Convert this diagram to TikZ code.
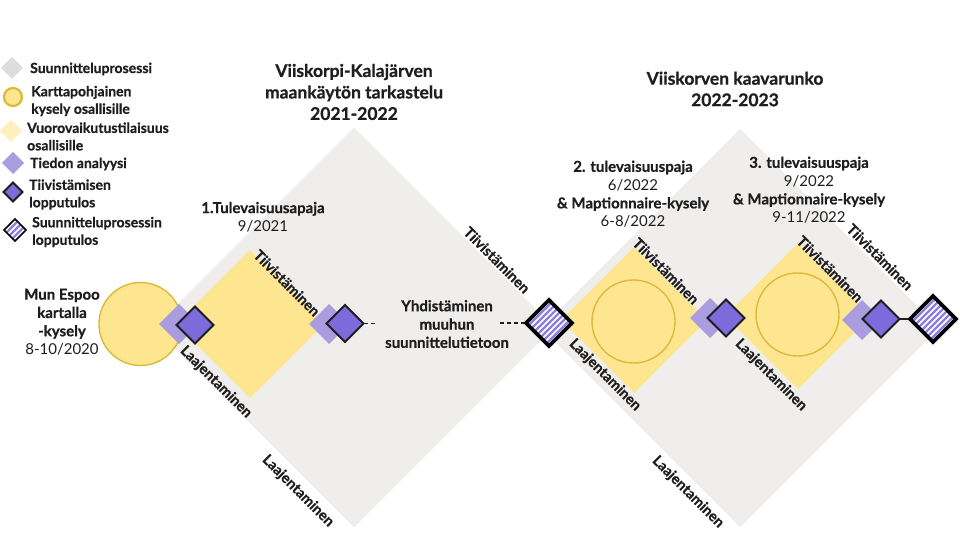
\documentclass[tikz,border=0pt]{standalone}
\usepackage{fontspec}
\setmainfont{Lato}[BoldFeatures={FakeBold=0.7}]
\usetikzlibrary{shapes.geometric,calc}
\definecolor{greyd}{HTML}{EFEEEC}
\definecolor{greylg}{HTML}{DFDDDB}
\definecolor{yell}{HTML}{FDE68F}
\definecolor{yelllg}{HTML}{FDF0BA}
\definecolor{gold}{HTML}{DDB93A}
\definecolor{lpurp}{HTML}{A99DDF}
\definecolor{dpurp}{HTML}{7D6BDB}
\definecolor{spurp}{HTML}{8E7EE2}
\definecolor{ink}{HTML}{1E1E1E}
\newcommand\lgfont{\fontsize{14}{17.5}\selectfont\bfseries}
\newcommand\ttlfont{\fontsize{17.5}{21.5}\selectfont\bfseries}
\newcommand\stgfont{\fontsize{15}{18.3}\selectfont\bfseries}
\newcommand\datefont{\fontsize{15}{18.3}\selectfont\mdseries}
\newcommand\rotfont{\fontsize{14.5}{17}\selectfont\bfseries}
\tikzset{
  dia/.style={shape=diamond, aspect=1, inner sep=0pt, outer sep=0pt, draw=none},
  procbox/.style={dia, fill=greyd, minimum width=#1, minimum height=#1},
  meetbox/.style={dia, fill=yell, minimum width=#1, minimum height=#1},
  anabox/.style={dia, fill=lpurp, minimum width=#1, minimum height=#1},
  resbox/.style={dia, fill=dpurp, draw=ink, line width=1.8pt, minimum width=#1, minimum height=#1},
  surveydot/.style={circle, fill=yell, draw=gold, line width=1.4pt, inner sep=0pt, minimum size=#1},
  rotlabel/.style={rotate=-45, inner sep=0pt, font=\rotfont, text=ink},
  lgtext/.style={anchor=west, align=left, inner sep=0pt, font=\lgfont, text=ink},
  conn/.style={draw=ink, line width=1.5pt},
}
\newcommand\stripedia[3]{%
  \node[dia, fill=white, minimum width=#3, minimum height=#3] (#1) at (#2) {};
  \begin{scope}
    \clip (#1.west) -- (#1.north) -- (#1.east) -- (#1.south) -- cycle;
    \foreach \k in {-48,-42,...,48}
      \draw[spurp, line width=2.3pt] ($(#1.center)+(\k/2-40,\k/2+40)$) -- ($(#1.center)+(\k/2+40,\k/2-40)$);
  \end{scope}
  \draw[black, line width=#3/12.5] (#1.west) -- (#1.north) -- (#1.east) -- (#1.south) -- cycle;
}
\begin{document}
\begin{tikzpicture}[x=1pt,y=-1pt]
\useasboundingbox (0,0) rectangle (960,540);
\fill[white] (0,0) rectangle (960,540);

% process diamonds
\node[procbox=400] (g1) at (354,327.5) {};
\node[procbox=398] (g2) at (740,328) {};

% meeting diamonds
\node[meetbox=148] (y1) at (250,324) {};
\node[meetbox=146] (y2) at (634,320) {};
\node[meetbox=146] (y3) at (798,316) {};

% survey circles
\node[surveydot=83] (c1) at (140.5,324) {};
\node[surveydot=83] (c2) at (633.5,321.5) {};
\node[surveydot=83] (c3) at (797.5,314.5) {};

% analysis + result diamonds
\node[anabox=40] (a1) at (179,324) {};
\node[resbox=37] (r1) at (195,325) {};
\node[anabox=40] (a2) at (329,324) {};
\node[resbox=37] (r2) at (345,323.5) {};
\node[anabox=40] (a3) at (710,318) {};
\node[resbox=37] (r3) at (726,318) {};
\node[anabox=40] (a4) at (862,320) {};
\node[resbox=37] (r4) at (881,319) {};

% final results
\stripedia{s1}{549,323}{46}
\stripedia{s2}{933,319}{46}

% connectors
\coordinate (d1) at (377,323.5);
\coordinate (d2) at (500,323);
\draw[conn, dash pattern=on 4pt off 3pt] (r2.east) -- (d1);
\draw[conn, dash pattern=on 4pt off 3pt] (d2) -- ($(s1.west)+(-2,0)$);
\draw[conn, line width=1.2pt] (r4.east) -- ($(s2.west)+(-2,0)$);

% rotated labels
\node[rotlabel] (t1) at (287,283) {Tiivistäminen};
\node[rotlabel] (l1) at (216,382) {Laajentaminen};
\node[rotlabel] (t2) at (497,260) {Tiivistäminen};
\node[rotlabel] (l2) at (298,491) {Laajentaminen};
\node[rotlabel] (t3) at (666,271) {Tiivistäminen};
\node[rotlabel] (l3) at (605,375) {Laajentaminen};
\node[rotlabel] (t4) at (830,269) {Tiivistäminen};
\node[rotlabel] (l4) at (771,375) {Laajentaminen};
\node[rotlabel] (t5) at (880,257) {Tiivistäminen};
\node[rotlabel] (l5) at (688,492) {Laajentaminen};

% titles
\node[align=center, inner sep=0pt, font=\ttlfont, text=ink] (h1) at (354,92) {Viiskorpi-Kalajärven\\maankäytön tarkastelu\\2021-2022};
\node[align=center, inner sep=0pt, font=\ttlfont, text=ink] (h2) at (735,89) {Viiskorven kaavarunko\\2022-2023};

% stage labels
\node[align=center, inner sep=0pt, font=\stgfont, text=ink] (w1) at (263,217) {1.Tulevaisuusapaja\\{\datefont 9/2021}};
\node[align=center, inner sep=0pt, font=\stgfont, text=ink] (w2) at (633,194) {2. tulevaisuuspaja\\{\datefont 6/2022}\\\& Maptionnaire-kysely\\{\datefont 6-8/2022}};
\node[align=center, inner sep=0pt, font=\stgfont, text=ink] (w3) at (809,190) {3. tulevaisuuspaja\\{\datefont 9/2022}\\\& Maptionnaire-kysely\\{\datefont 9-11/2022}};
\node[align=center, inner sep=0pt, font=\stgfont, text=ink] (w0) at (62,322) {Mun Espoo\\kartalla\\-kysely\\{\datefont 8-10/2020}};
\node[align=center, inner sep=0pt, font=\stgfont, text=ink] (yh) at (447,324) {Yhdistäminen\\muuhun\\suunnittelutietoon};

% legend
\node[dia, fill=greylg, minimum width=22, minimum height=22] (k1) at (12,68) {};
\node[circle, fill=yell, draw=gold, line width=2.2pt, inner sep=0pt, minimum size=18] (k2) at (13,97) {};
\node[dia, fill=yelllg, minimum width=22, minimum height=22] (k3) at (11,131) {};
\node[dia, fill=lpurp, minimum width=22, minimum height=22] (k4) at (13,163) {};
\node[resbox=19] (k5) at (13,192) {};
\stripedia{k6}{15,230}{22}

\node[lgtext] (e1) at (30,69) {Suunnitteluprosessi};
\node[lgtext] (e2) at (31,101) {Karttapohjainen\\kysely osallisille};
\node[lgtext] (e3) at (27,136.5) {Vuorovaikutustilaisuus\\osallisille};
\node[lgtext] (e4) at (30,164) {Tiedon analyysi};
\node[lgtext] (e5) at (29,194.5) {Tiivistämisen\\lopputulos};
\node[lgtext] (e6) at (32,232) {Suunnitteluprosessin\\lopputulos};
\end{tikzpicture}
\end{document}
